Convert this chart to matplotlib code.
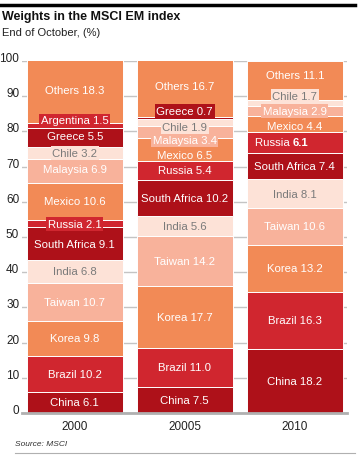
import matplotlib
matplotlib.use("Agg")
import matplotlib.pyplot as plt
import numpy as np
from matplotlib.lines import Line2D

plt.rcParams['font.family'] = ['Liberation Sans Narrow', 'Liberation Sans', 'DejaVu Sans']

years = ["2000", "20005", "2010"]
categories = ["China", "Brazil", "Korea", "Taiwan", "India", "South Africa",
              "Russia", "Mexico", "Malaysia", "Chile", "Greece", "Argentina", "Others"]
china = [6.1, 7.5, 18.2]
brazil = [10.2, 11.0, 16.3]
korea = [9.8, 17.7, 13.2]
taiwan = [10.7, 14.2, 10.6]
india = [6.8, 5.6, 8.1]
south_africa = [9.1, 10.2, 7.4]
russia = [2.1, 5.4, 6.1]
mexico = [10.6, 6.5, 4.4]
malaysia = [6.9, 3.4, 2.9]
chile = [3.2, 1.9, 1.7]
greece = [5.5, 0.7, 0.0]
argentina = [1.5, 0.0, 0.0]
others = [18.3, 16.7, 11.1]
series = [china, brazil, korea, taiwan, india, south_africa, russia, mexico,
          malaysia, chile, greece, argentina, others]

DARK = "#ae1119"
RED = "#d0262f"
ORANGE = "#f28a56"
SALMON = "#f8b29b"
LIGHT = "#fde2d7"
colors = {"China": DARK, "Brazil": RED, "Korea": ORANGE, "Taiwan": SALMON,
          "India": LIGHT, "South Africa": DARK, "Russia": RED, "Mexico": ORANGE,
          "Malaysia": SALMON, "Chile": LIGHT, "Greece": DARK, "Argentina": RED,
          "Others": ORANGE}
text_colors = {"India": "#7a7a7a", "Chile": "#7a7a7a"}

# label vertical offsets (style), keyed by (category, bar index)
offsets = {("Others", 1): 0.4, ("Greece", 1): 2.0, ("Chile", 1): -1.2,
           ("Malaysia", 1): -2.2, ("Mexico", 1): -1.5, ("Others", 2): 1.5,
           ("Chile", 2): 2.0, ("Mexico", 2): -0.6, ("Argentina", 0): 1.4,
           ("Greece", 0): 0.4, ("Malaysia", 0): 0.5}
boxed = {("Argentina", 0), ("Greece", 0), ("Chile", 0), ("Russia", 0),
         ("Greece", 1), ("Chile", 1), ("Malaysia", 1), ("Chile", 2), ("Malaysia", 2)}

FS = 8.2
fig = plt.figure(figsize=(3.63, 4.77), dpi=100)
ax = fig.add_axes([22/363, 1-414/477, (347-22)/363, (414-62)/477])

x = np.arange(len(years))
width = 0.87
bottom = np.zeros(len(years))
for cat, vals in zip(categories, series):
    vals = np.array(vals)
    ax.bar(x, vals, width, bottom=bottom, color=colors[cat], edgecolor="white",
           linewidth=0.7, zorder=2)
    for i in range(len(years)):
        v = vals[i]
        if v <= 0:
            continue
        yc = bottom[i] + v / 2 + offsets.get((cat, i), 0)
        tc = text_colors.get(cat, "white")
        bbox = None
        if (cat, i) in boxed:
            bbox = dict(boxstyle="square,pad=0.15", facecolor=colors[cat], edgecolor="none")
        if cat == "Russia" and i == 2:
            ax.text(x[i] - 0.02, yc, "Russia ", ha="right", va="center", fontsize=FS,
                    color=tc, zorder=4)
            ax.text(x[i] - 0.02, yc, f"{v:.1f}", ha="left", va="center", fontsize=FS,
                    color=tc, fontweight="bold", zorder=4)
        else:
            ax.text(x[i], yc, f"{cat} {v:.1f}", ha="center", va="center", fontsize=FS,
                    color=tc, bbox=bbox, zorder=4)
    bottom += vals

ax.set_xlim(-0.48, 2.475)
ax.set_ylim(0, 100)
ax.set_yticks(np.arange(0, 101, 10))
ax.set_yticklabels([str(v) for v in range(0, 101, 10)], fontsize=8.5, color="#222222")
for lbl in ax.get_yticklabels():
    lbl.set_verticalalignment("baseline")
ax.tick_params(axis="y", length=0, pad=2)
ax.set_xticks(x)
ax.set_xticklabels(years, fontsize=8.5, color="#222222")
ax.tick_params(axis="x", length=0, pad=5)
ax.yaxis.grid(True, color="#c4c4c4", linewidth=1.0, zorder=0)
ax.set_axisbelow(True)
for s in ["top", "right", "left"]:
    ax.spines[s].set_visible(False)
ax.spines["bottom"].set_color("#b0b0b0")
ax.spines["bottom"].set_linewidth(2)
ax.spines["bottom"].set_zorder(5)

fig.add_artist(Line2D([0, 355/363], [1-6/477, 1-6/477], color="black", linewidth=2.5))
fig.text(2/363, 1-17/477, "Weights in the MSCI EM index", fontsize=9, fontweight="bold",
         va="center", ha="left", color="#111111")
fig.text(2/363, 1-33/477, "End of October, (%)", fontsize=8, va="center", ha="left",
         color="#222222")
fig.text(15/363, 1-445/477, "Source: MSCI", fontsize=6, style="italic", va="center",
         ha="left", color="#333333")
fig.add_artist(Line2D([15/363, 355/363], [1-454/477, 1-454/477], color="#b0b0b0", linewidth=0.8))

fig.savefig("out.png", dpi=100)
